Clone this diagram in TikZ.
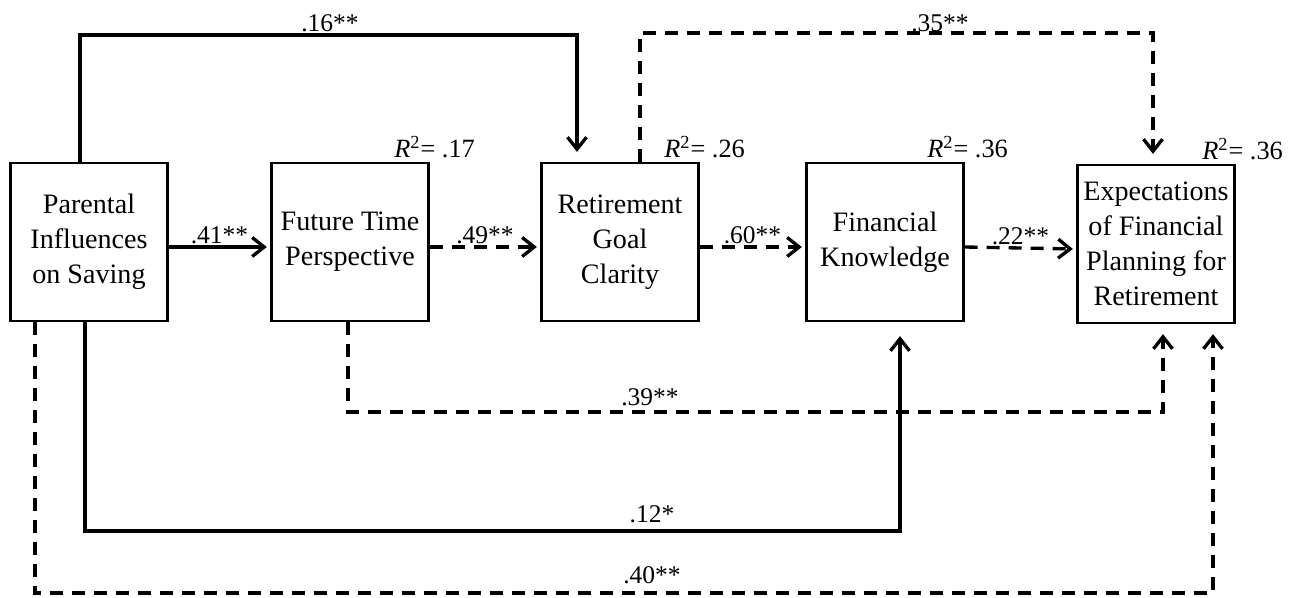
\documentclass[tikz,border=0pt]{standalone}
\usepackage{fontspec}
\setmainfont{Liberation Serif}
\usetikzlibrary{arrows.meta}

\begin{document}
\begin{tikzpicture}[x=0.02cm,y=-0.02cm,>={Straight Barb[length=2.4mm,width=3.8mm]},
    var/.style={draw=black,line width=1.3pt,minimum width=3.14cm,minimum height=3.16cm,
      align=center,inner sep=1pt,font=\fontsize{16}{19.9}\selectfont},
    coef/.style={font=\fontsize{14.5}{16}\selectfont,inner sep=1pt},
    rsq/.style={font=\fontsize{15}{17}\selectfont,inner sep=1pt,anchor=south},
    link/.style={line width=1.9pt,->,shorten >=2pt},
    dlink/.style={link,dash pattern=on 0.26cm off 0.18cm}]
    % \draw[step=50] (0,0) grid (1299,598);
    \useasboundingbox (0,0) rectangle (1299,598);

    % variables
    \node[var] (par) at (89,242) {Parental\\Influences\\on Saving};
    \node[var] (ftp) at (350,242) {Future Time\\Perspective};
    \node[var] (rgc) at (620,242) {Retirement\\Goal\\Clarity};
    \node[var] (fk) at (885,242) {Financial\\Knowledge};
    \node[var] (exp) at (1156,244) {Expectations\\of Financial\\Planning for\\Retirement};

    \node[rsq] (r2ftp) at ([xshift=0.1cm,yshift=0.04cm]ftp.north east) {\textit{R}\textsuperscript{2}= .17};
    \node[rsq] (r2rgc) at ([xshift=0.1cm,yshift=0.04cm]rgc.north east) {\textit{R}\textsuperscript{2}= .26};
    \node[rsq] (r2fk) at ([xshift=0.06cm,yshift=0.04cm]fk.north east) {\textit{R}\textsuperscript{2}= .36};
    \node[rsq] (r2exp) at ([xshift=0.14cm,yshift=0.04cm]exp.north east) {\textit{R}\textsuperscript{2}= .36};

    % direct paths
    \draw[link] ([yshift=-0.1cm]par.east) -- node[coef,above] (c41) {.41**} ([yshift=-0.1cm]ftp.west);
    \draw[dlink] ([yshift=-0.1cm]ftp.east) -- node[coef,above] (c49) {.49**} ([yshift=-0.1cm]rgc.west);
    \draw[dlink] ([yshift=-0.1cm]rgc.east) -- node[coef,above] (c60) {.60**} ([yshift=-0.1cm]fk.west);
    \draw[dlink] ([yshift=-0.1cm]fk.east) -- node[coef,above] (c22) {.22**} ([yshift=-0.1cm]exp.west);

    % paths over the top
    \draw[link,shorten >=0.2cm] ([xshift=-0.18cm]par.north) -- ++(0,-127) -| ([xshift=-0.86cm]rgc.north);
    \draw[dlink,shorten >=0.2cm] ([xshift=0.4cm]rgc.north) -- ++(0,-129) -| ([xshift=-0.06cm]exp.north);
    \node[coef] (c16) at (330,23) {.16**};
    \node[coef] (c35) at (940,23) {.35**};

    % paths underneath
    \draw[dlink,shorten >=0.2cm] ([xshift=-0.04cm]ftp.south) -- ++(0,90) -| ([xshift=0.14cm]exp.south);
    \draw[link,shorten >=0.28cm] ([xshift=-0.08cm]par.south) -- ++(0,209) -| ([xshift=0.3cm]fk.south);
    \draw[dlink,shorten >=0.2cm] ([xshift=-1.08cm]par.south) -- ++(0,271) -| ([xshift=1.14cm]exp.south);
    \node[coef] (c39) at (650,397) {.39**};
    \node[coef] (c12) at (652,514) {.12*};
    \node[coef] (c40) at (652,575) {.40**};
\end{tikzpicture}
\end{document}
